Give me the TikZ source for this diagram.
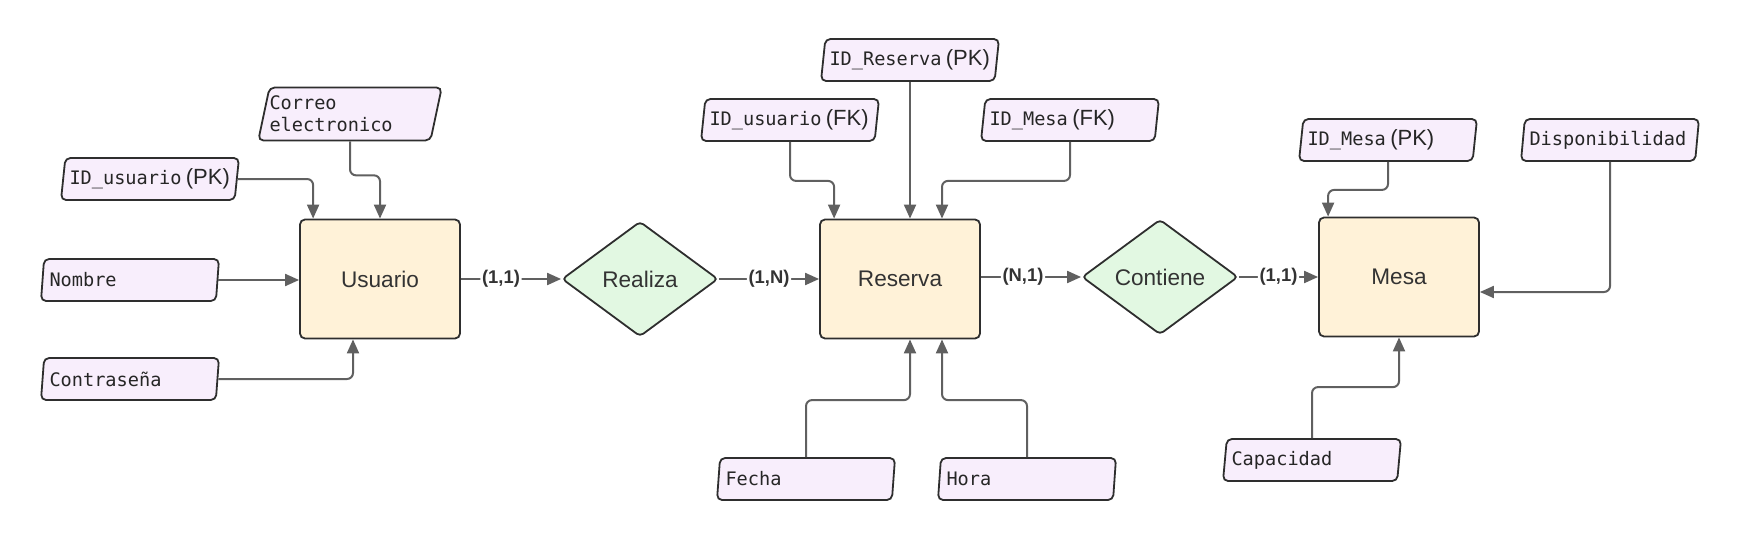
\documentclass[tikz,border=0pt]{standalone}
\usepackage{fontspec}
\setmainfont{Liberation Sans}
\newfontfamily\attrfont{DejaVu Sans Mono}
\usepackage{tikz}
\usetikzlibrary{arrows.meta,calc,positioning,shapes.geometric}

\definecolor{entfill}{HTML}{FFF2D8}
\definecolor{relfill}{HTML}{E2F8E2}
\definecolor{attrfill}{HTML}{F8EEFC}
\definecolor{bordergray}{HTML}{2E2E2E}
\definecolor{arrowgray}{HTML}{606060}
\definecolor{textgray}{HTML}{333333}

% key tag like (PK) / (FK) in sans
\newcommand{\keytag}[1]{\hspace{2.2pt}{\rmfamily\fontsize{11}{12}\selectfont(#1)}}

\begin{document}
\begin{tikzpicture}[
    % GLOBAL CFG
    x=0.5pt, y=-0.5pt,
    >={Triangle[length=7pt,width=6pt]},
    font=\fontsize{11.3}{13}\selectfont,
    % Styles
    entity/.style={% For the entities
        rectangle,
        rounded corners=2.5pt,
        draw=bordergray,
        line width=0.9pt,
        fill=entfill,
        text=textgray,
        minimum width=80pt,
        minimum height=59.5pt,
        inner sep=0pt,
        },
    relation/.style={% For the relations
        diamond,
        rounded corners=2pt,
        draw=bordergray,
        line width=0.9pt,
        fill=relfill,
        text=textgray,
        minimum width=78pt,
        minimum height=57.5pt,
        inner sep=0pt,
        },
    attr/.style={% For the attributes
        trapezium,
        trapezium left angle=78,
        trapezium right angle=102,
        trapezium stretches body,
        rounded corners=2.5pt,
        draw=bordergray,
        line width=0.9pt,
        fill=attrfill,
        text=black!85,
        minimum width=89pt,
        minimum height=21pt,
        inner xsep=0pt,
        inner ysep=0pt,
        text width=80.5pt,
        align=left,
        font=\attrfont\fontsize{9.3}{11}\selectfont,
        },
    card/.style={% For the cardinalities
        fill=white,
        inner sep=0.8pt,
        text=textgray,
        font=\bfseries\fontsize{9.2}{10}\selectfont,
        },
    conn/.style={% Arrows with rounded corners
        ->,
        draw=arrowgray,
        line width=1pt,
        rounded corners=3pt,
        },
    ]

    \useasboundingbox (0,0) rectangle (1740,540);

    % Draw the entities
    \node [entity] (usuario) at (380,279) {Usuario};
    \node [entity] (reserva) at (900,279) {Reserva};
    \node [entity] (mesa) at (1399,277) {Mesa};

    % Draw the relations
    \node [relation] (realiza) at (640,279) {Realiza};
    \node [relation] (contiene) at (1160,277) {Contiene};

    % Attributes of Usuario
    \node [attr, inner ysep=4.2pt] (correo) at (350,114) {Correo\\electronico};
    \node [attr] (idusuario) at (150,179) {ID\_usuario\keytag{PK}};
    \node [attr] (nombre) at (130,280) {Nombre};
    \node [attr] (contrasena) at (130,379) {Contraseña};

    % Attributes of Reserva
    \node [attr] (idreserva) at (910,60) {ID\_Reserva\keytag{PK}};
    \node [attr] (idusuariofk) at (790,120) {ID\_usuario\keytag{FK}};
    \node [attr] (idmesafk) at (1070,120) {ID\_Mesa\keytag{FK}};
    \node [attr] (fecha) at (806,479) {Fecha};
    \node [attr] (hora) at (1027,479) {Hora};

    % Attributes of Mesa
    \node [attr] (idmesa) at (1388,140) {ID\_Mesa\keytag{PK}};
    \node [attr] (dispo) at (1610,140) {Disponibilidad};
    \node [attr] (capacidad) at (1312,460) {Capacidad};

    % Connect the attributes
    \draw [conn] (idusuario.east) -| ($(usuario.north west)+(14,0)$);
    \draw [conn] (correo.south) -- ++(0,34) -| (usuario.north);
    \draw [conn] (nombre.east) -- (nombre.east -| usuario.west);
    \draw [conn] (contrasena.east) -| ($(usuario.south)+(-27,0)$);

    \draw [conn] (idusuariofk.south) -- ++(0,39) -| ($(reserva.north west)+(15,0)$);
    \draw [conn] (idreserva.south) -- (idreserva.south |- reserva.north);
    \draw [conn] (idmesafk.south) -- ++(0,39) -| ($(reserva.north)+(42,0)$);
    \draw [conn] (fecha.north) -- ++(0,-57) -| ($(reserva.south)+(10,0)$);
    \draw [conn] (hora.north) -- ++(0,-57) -| ($(reserva.south)+(42,0)$);

    \draw [conn] (idmesa.south) -- ++(0,28) -| ($(mesa.north west)+(10,0)$);
    \draw [conn] (dispo.south) |- ($(mesa.east)+(0,15)$);
    \draw [conn] (capacidad.north) -- ++(0,-51) -| (mesa.south);

    % Relations with cardinalities
    \draw [conn] (usuario.east) -- (realiza.west) node[card, pos=0.4] {(1,1)};
    \draw [conn] (realiza.east) -- (realiza.east -| reserva.west) node[card, midway] {(1,N)};
    \draw [conn] (contiene.west -| reserva.east) -- (contiene.west) node[card, pos=0.42] {(N,1)};
    \draw [conn] (contiene.east) -- (contiene.east -| mesa.west) node[card, midway] {(1,1)};

\end{tikzpicture}
\end{document}
